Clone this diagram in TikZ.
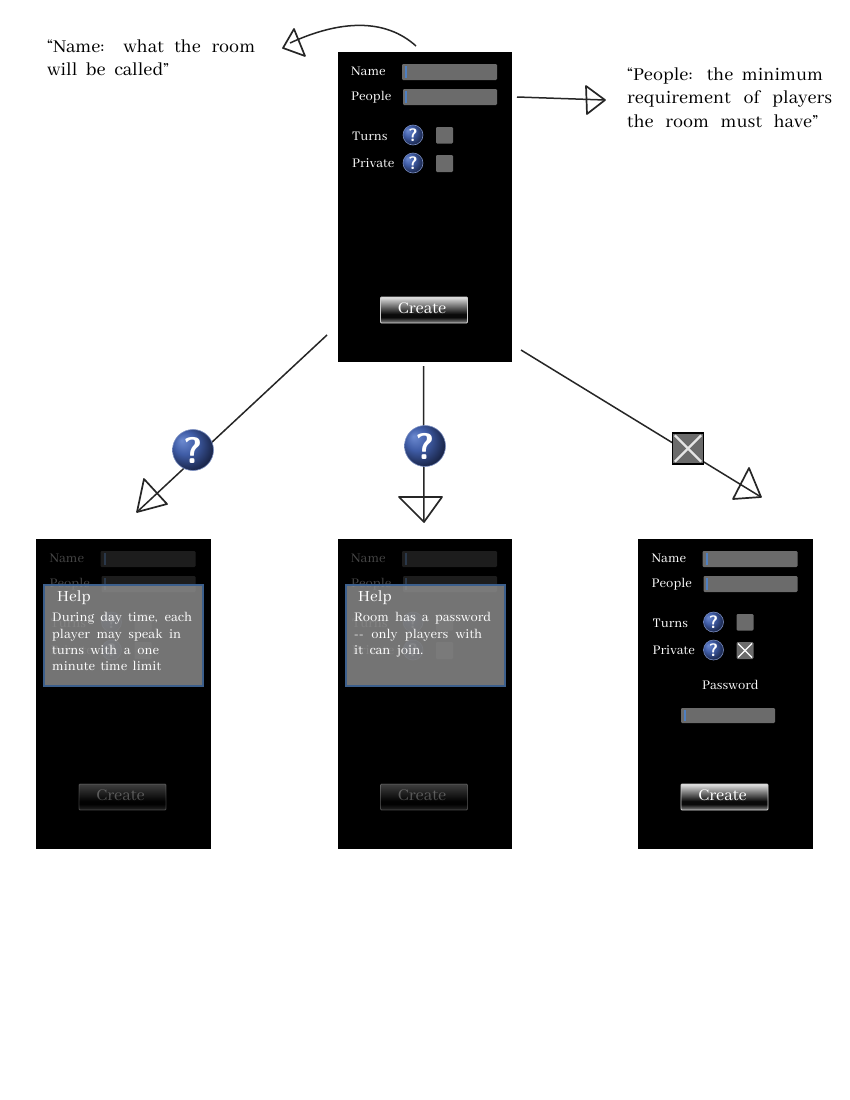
\documentclass[tikz,border=0pt]{standalone}
\usepackage{fontspec}
\usetikzlibrary{calc}
\setmainfont{Abhaya Libre}
\definecolor{fieldgray}{HTML}{6B6B6B}
\definecolor{caretblue}{HTML}{4F7FC0}
\definecolor{panelgray}{HTML}{929292}
\definecolor{panelblue}{HTML}{3C5F8C}
\definecolor{ballA}{HTML}{6C8AD0}
\definecolor{ballB}{HTML}{3F5CA6}
\definecolor{ballC}{HTML}{0C1228}
\definecolor{btnA}{HTML}{E4E4E4}
\definecolor{btnB}{HTML}{0A0A0A}
\definecolor{btnC}{HTML}{8A8A8A}
\pgfdeclareradialshading{helpball}{\pgfpoint{-14bp}{12bp}}{color(0bp)=(ballA); color(14bp)=(ballB); color(36bp)=(ballC); color(50bp)=(ballC)}
\pgfdeclareverticalshading{btnshade}{100bp}{color(0bp)=(btnC); color(25bp)=(btnC); color(36bp)=(btnB); color(42bp)=(btnB); color(75bp)=(btnA); color(100bp)=(btnA)}
\tikzset{
  x=1pt,y=-1pt,
  screen/.style={fill=black,draw=none},
  field/.style={fill=fieldgray,rounded corners=1.2pt,draw=none},
  caret/.style={fill=caretblue,draw=none},
  tickbox/.style={fill=fieldgray,rounded corners=1.2pt,draw=none},
  uilabel/.style={text=white,font=\fontsize{14.5}{16}\selectfont,anchor=west,inner sep=0pt},
  helpicon/.style={circle,inner sep=0pt,shading=helpball,draw=ballB!70!white,line width=.6pt,text=white},
  smallhelp/.style={helpicon,minimum size=20pt,font=\fontsize{18}{18}\selectfont\bfseries\sffamily},
  bighelp/.style={helpicon,minimum size=41pt,font=\fontsize{37}{37}\selectfont\bfseries\sffamily},
  flow/.style={draw=black!85,line width=1.5pt,line join=round},
  ink/.style={draw=black!85,line width=1.7pt,line join=round,line cap=round},
  createbtn/.style={shading=btnshade,draw=black!20,line width=.8pt,rounded corners=1pt,text=white,font=\fontsize{18}{20}\selectfont,inner sep=0pt},
  note/.style={anchor=north west,inner sep=0pt,align=left,font=\fontsize{20}{23.5}\selectfont},
  helppanel/.style={fill=panelgray,fill opacity=.8,draw=panelblue,line width=1.2pt},
  helptext/.style={text=white,anchor=north west,inner sep=0pt,align=left,font=\fontsize{14.5}{16.2}\selectfont},
  helptitle/.style={text=white,anchor=west,inner sep=0pt,font=\fontsize{17}{18}\selectfont},
}
\newcommand{\screenui}[1]{%
  \node[uilabel] (#1-nl) at (351,71) {Name};
  \node[uilabel] (#1-pl) at (351,97) {People};
  \node[uilabel] (#1-tl) at (352,136) {Turns};
  \node[uilabel] (#1-vl) at (352,163) {Private};
  \path[field] (402,64) rectangle (497,80);
  \path[caret] (405,66) rectangle (407,78);
  \path[field] (403,89) rectangle (497,105);
  \path[caret] (405,91) rectangle (407,103);
  \node[smallhelp] (#1-th) at (413,135) {?};
  \node[smallhelp] (#1-vh) at (413,163) {?};
  \path[tickbox] (436,127) rectangle (453,143.5);
  \path[tickbox] (436,155) rectangle (453,172);
  \node[createbtn,minimum width=87pt,minimum height=26pt] (#1-cr) at (424,310) {\hspace{-4pt}\raisebox{4pt}{Create}};
}
\newcommand{\fitline}[2]{\makebox[#1pt][s]{#2}}
\begin{document}
\begin{tikzpicture}
\useasboundingbox (0,0) rectangle (850,1100);
\path[fill=white] (0,0) rectangle (850,1100);

% top screen
\node[screen,minimum width=174pt,minimum height=310pt,inner sep=0pt] (top) at (425,207) {};
\screenui{a}

% left help screen
\node[screen,minimum width=174.5pt,minimum height=310pt,inner sep=0pt] (left) at (123.5,694) {};
\begin{scope}[shift={(-301.5,487)},opacity=.28]
\screenui{b}
\end{scope}
\path[helppanel] (44,585) rectangle (203,686);
\node[helptitle] (lefthelp) at (57,598) {Help};
\node[helptext] (lefttext) at (52,612.5) {\fitline{140}{During day time, each}\\\fitline{129}{player may speak in}\\\fitline{107}{turns with a one}\\\fitline{109}{minute time limit}};

% middle help screen
\node[screen,minimum width=174pt,minimum height=310pt,inner sep=0pt] (mid) at (425,694) {};
\begin{scope}[shift={(0,487)},opacity=.28]
\screenui{c}
\end{scope}
\path[helppanel] (346,585) rectangle (505,686);
\node[helptitle] (midhelp) at (358,598) {Help};
\node[helptext] (midtext) at (354,612.5) {\fitline{137}{Room has a password}\\\fitline{128}{-{}- only players with}\\\fitline{69}{it can join.}};

% right screen
\node[screen,minimum width=175pt,minimum height=310pt,inner sep=0pt] (right) at (725.5,694) {};
\begin{scope}[shift={(300.5,487)}]
\screenui{d}
\draw[white,line width=1.3pt] (437.5,156.5) -- (451.5,170.5) (451.5,156.5) -- (437.5,170.5);
\end{scope}
\node[uilabel] (pw) at (702,684.5) {Password};
\path[field] (681,708) rectangle (775,723);
\path[caret] (684,710) rectangle (685.5,721);

% notes
\node[note] (noteA) at (47,39.5) {\fitline{208}{“Name: what the room}\\\fitline{122}{will be called”}};
\node[note] (noteB) at (627,67.5) {\fitline{196}{“People: the minimum}\\\fitline{205}{requirement of players}\\\fitline{191}{the room must have”}};

% arrow end points
\coordinate (s1) at (416,46);
\coordinate (t1) at (290,43);
\coordinate (s2) at (517,97);
\coordinate (t2) at (605,100);
\coordinate (s3) at (327,335);
\coordinate (t3) at (137,512);
\coordinate (s4) at (423.5,366);
\coordinate (t4) at (424,522);
\coordinate (s5) at (521,350);
\coordinate (t5) at (761,497);

\draw[flow] (s1) .. controls (385,18) and (340,20) .. (t1);
\draw[ink] (283,48) -- (294,29) -- (305,56) -- cycle;
\draw[flow] (s2) -- (t2);
\draw[ink] (605,100) -- (586,86) -- (587,114) -- cycle;
\draw[flow] (s3) -- (t3);
\draw[ink] (137,512) -- (144,479) -- (167,504) -- cycle;
\draw[flow] (s4) -- (t4);
\draw[ink] (424,522) -- (399,497) -- (442,497) -- cycle;
\draw[flow] (s5) -- (t5);
\draw[ink] (761,497) -- (749,468) -- (733,499) -- cycle;

% big icons over the connectors
\node[bighelp] (bigL) at (193,450) {?};
\node[bighelp] (bigM) at (425,446) {?};
\node[fill=fieldgray,draw=black,line width=1.4pt,minimum size=31pt,inner sep=0pt] (bigX) at (688,448.5) {};
\draw[white!90!black,line width=2.2pt] ($(bigX.north west)+(3,3)$) -- ($(bigX.south east)+(-3,-3)$);
\draw[white!90!black,line width=2.2pt] ($(bigX.north east)+(-3,3)$) -- ($(bigX.south west)+(3,-3)$);
\end{tikzpicture}
\end{document}
